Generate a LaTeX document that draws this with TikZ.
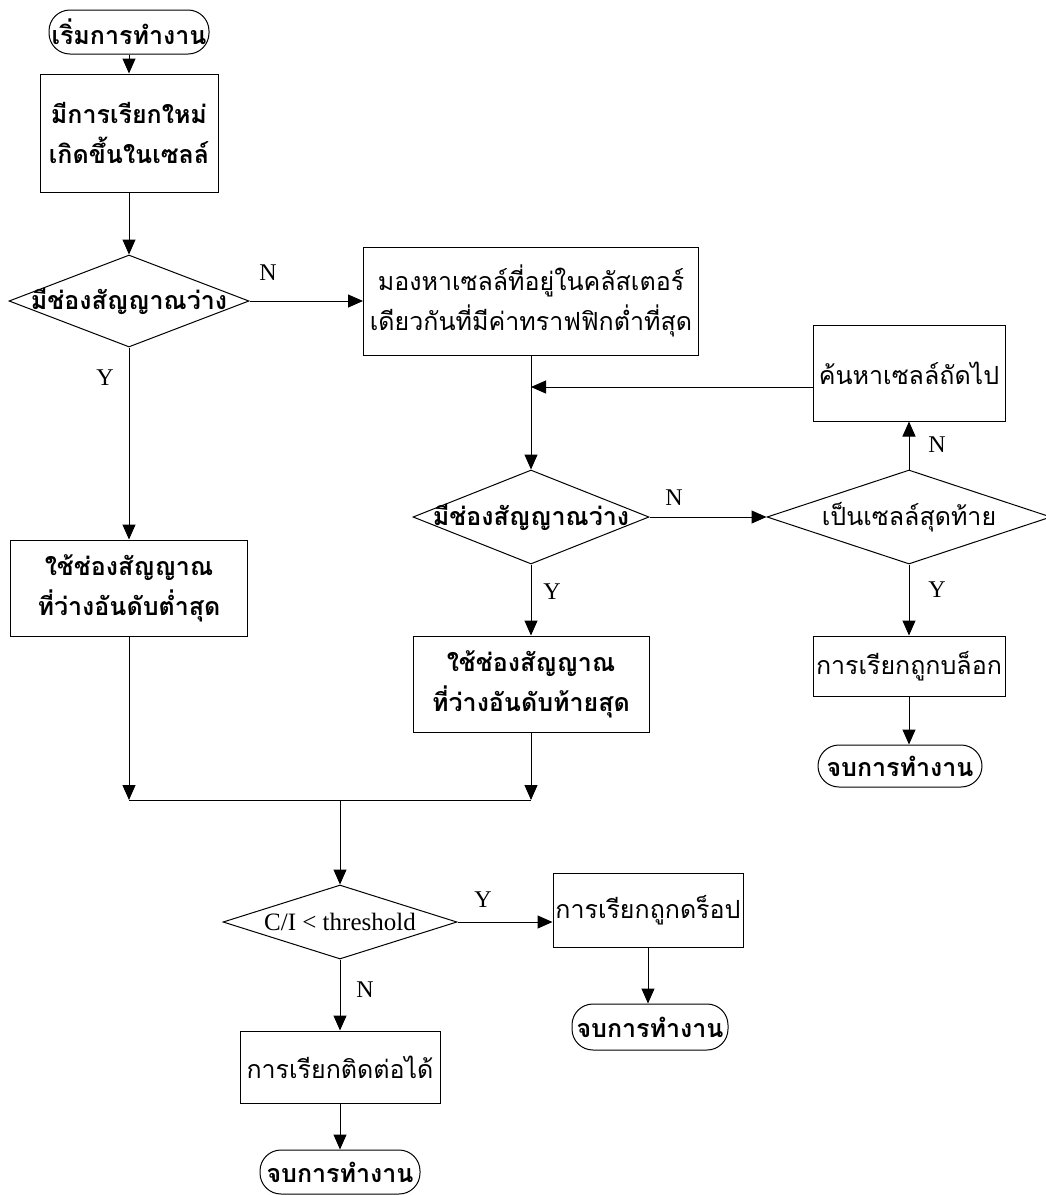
\documentclass[tikz,border=0pt]{standalone}
\usepackage{fontspec}
\setmainfont{Liberation Serif}
\newfontfamily\thaifont[Script=Thai]{Loma}
\usetikzlibrary{arrows.meta,shapes.geometric}

\tikzset{
  box/.style={draw, rectangle, align=center, inner sep=0pt, font=\thaifont\fontsize{25}{40}\selectfont},
  heavy/.style={font=\thaifont\bfseries\fontsize{25}{40}\selectfont},
  term/.style={box, rounded corners=21pt},
  decision/.style={draw, diamond, inner sep=0pt, font=\thaifont\fontsize{25}{40}\selectfont},
  yn/.style={font=\fontsize{24}{26}\selectfont},
  arr/.style={-{Triangle[length=15pt,width=13pt]}}
}

\begin{document}
\begin{tikzpicture}[x=1pt, y=-1pt, line width=1pt]
\useasboundingbox (0,0) rectangle (1045,1195);

% left column
\node[term, heavy, minimum width=160pt, minimum height=44pt] (start) at (129,32) {เริ่มการทำงาน};
\node[box, heavy, minimum width=178pt, minimum height=118pt] (newcall) at (129,133) {มีการเรียกใหม่\\เกิดขึ้นในเซลล์};
\node[decision, heavy, minimum width=240pt, minimum height=92pt] (free1) at (129,301) {\makebox[0pt]{มีช่องสัญญาณว่าง}};
\node[box, heavy, minimum width=237pt, minimum height=96pt] (uselow) at (129,588) {ใช้ช่องสัญญาณ\\ที่ว่างอันดับต่ำสุด};

% middle column
\node[box, minimum width=335pt, minimum height=108pt] (search) at (531,301) {มองหาเซลล์ที่อยู่ในคลัสเตอร์\\เดียวกันที่มีค่าทราฟฟิกต่ำที่สุด};
\node[decision, heavy, minimum width=236pt, minimum height=94pt] (free2) at (531,517) {\makebox[0pt]{มีช่องสัญญาณว่าง}};
\node[box, heavy, minimum width=236pt, minimum height=96pt] (uselast) at (531,684) {ใช้ช่องสัญญาณ\\ที่ว่างอันดับท้ายสุด};

% right column
\node[box, minimum width=192pt, minimum height=96pt] (next) at (909,373) {ค้นหาเซลล์ถัดไป};
\node[decision, minimum width=284pt, minimum height=94pt] (last) at (909,517) {\makebox[0pt]{เป็นเซลล์สุดท้าย}};
\node[box, minimum width=192pt, minimum height=60pt] (blocked) at (909,666) {การเรียกถูกบล็อก};
\node[term, heavy, minimum width=164pt, minimum height=42pt] (end1) at (900,766) {จบการทำงาน};

% bottom part
\coordinate (merge) at (340,800);
\node[decision, font=\fontsize{25}{27}\selectfont, minimum width=234pt, minimum height=74pt] (ci) at (340,922) {\makebox[0pt]{C/I < threshold}};
\node[box, minimum width=190pt, minimum height=74pt] (dropped) at (648,910) {การเรียกถูกดร็อป};
\node[term, heavy, minimum width=156pt, minimum height=46pt] (end2) at (650,1027) {จบการทำงาน};
\node[box, minimum width=200pt, minimum height=72pt] (connected) at (340,1067) {การเรียกติดต่อได้};
\node[term, heavy, minimum width=160pt, minimum height=44pt] (end3) at (340,1172) {จบการทำงาน};

% Y/N labels
\node[yn] (lblN1) at (268,273) {N};
\node[yn] (lblY1) at (105,378) {Y};
\node[yn] (lblN2) at (674,498) {N};
\node[yn] (lblY2) at (552,592) {Y};
\node[yn] (lblN3) at (937,445) {N};
\node[yn] (lblY3) at (937,590) {Y};
\node[yn] (lblY4) at (483,900) {Y};
\node[yn] (lblN4) at (365,990) {N};

% connectors
\draw[arr] (start) -- (newcall);
\draw[arr] (newcall) -- (free1);
\draw[arr] (free1.east) -- (search.west);
\draw[arr] (free1.south) -- (uselow.north);
\draw[arr] (search.south) -- (free2.north);
\coordinate (back) at (531,387);
\draw[arr] (back -| next.west) -- (back);
\draw[arr] (free2.east) -- (last.west);
\draw[arr] (last.north) -- (next.south);
\draw[arr] (last.south) -- (blocked.north);
\draw[arr] (blocked.south) -- (blocked.south |- end1.north);
\draw[arr] (free2.south) -- (uselast.north);
\draw[arr] (uselow.south) -- (uselow.south |- merge);
\draw[arr] (uselast.south) -- (uselast.south |- merge);
\draw (uselow.south |- merge) -- (uselast.south |- merge);
\draw[arr] (merge) -- (ci.north);
\draw[arr] (ci.east) -- (ci.east -| dropped.west);
\draw[arr] (dropped.south) -- (dropped.south |- end2.north);
\draw[arr] (ci.south) -- (connected.north);
\draw[arr] (connected.south) -- (end3.north);
\end{tikzpicture}
\end{document}
